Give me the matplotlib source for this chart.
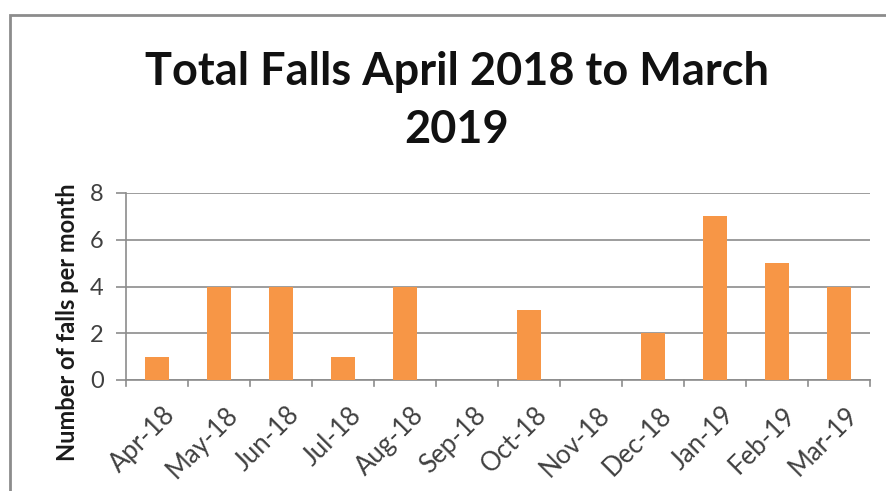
import matplotlib.pyplot as plt
from matplotlib.patches import Rectangle
from matplotlib.transforms import ScaledTranslation

# monthly falls, Apr 2018 - Mar 2019
months = ['Apr-18', 'May-18', 'Jun-18', 'Jul-18', 'Aug-18', 'Sep-18',
          'Oct-18', 'Nov-18', 'Dec-18', 'Jan-19', 'Feb-19', 'Mar-19']
falls = [1, 4, 4, 1, 4, 0, 3, 0, 2, 7, 5, 4]
yticks = [0, 2, 4, 6, 8]

plt.rcParams['font.family'] = ['Lato', 'DejaVu Sans']

fig = plt.figure(figsize=(8.87, 4.91), dpi=100)
ax = fig.add_axes([126 / 887, 1 - 380 / 491, (870 - 126) / 887, (380 - 193) / 491])

# chart frame
fig.patches.append(Rectangle((10 / 887, -0.1), 1.0, 1 - 15 / 491 + 0.1,
                             transform=fig.transFigure, fill=False,
                             edgecolor='#8c8c8c', linewidth=2.0))

x = list(range(len(months)))
ax.bar(x, falls, width=0.4, color='#F79646', zorder=3)

ax.set_xlim(-0.5, len(months) - 0.5)
ax.set_ylim(0, 8)
ax.set_yticks(yticks)
ax.yaxis.grid(True, color='#8c8c8c', linewidth=1.2, zorder=0)
ax.tick_params(axis='y', labelsize=17, colors='#8c8c8c', labelcolor='#404040',
               length=7, width=1.2, pad=9)

# category labels under bars, tick marks on category boundaries
ax.set_xticks(x)
ax.set_xticklabels(months, rotation=45, ha='right', rotation_mode='anchor',
                   fontsize=18.5, color='#404040')
ax.tick_params(axis='x', length=0, pad=16)
shift = ScaledTranslation(6 / 100, 0, fig.dpi_scale_trans)
for lbl in ax.get_xticklabels():
    lbl.set_transform(lbl.get_transform() + shift)
for b in [i - 0.5 for i in range(len(months) + 1)]:
    ax.plot([b, b], [0, -0.25], color='#8c8c8c', linewidth=1.2, clip_on=False)

for side in ['top', 'right']:
    ax.spines[side].set_visible(False)
ax.spines['left'].set_color('#8c8c8c')
ax.spines['bottom'].set_color('#8c8c8c')
ax.spines['left'].set_linewidth(1.2)
ax.spines['bottom'].set_linewidth(1.2)

fig.text(68 / 887, 1 - 322 / 491, 'Number of falls per month', rotation=90,
         ha='center', va='center', fontsize=17, fontweight='bold', color='#1a1a1a')

fig.text(457 / 887, 1 - 72 / 491, 'Total Falls April 2018 to March',
         ha='center', va='center', fontsize=32.5, fontweight='bold', color='#111111')
fig.text(457 / 887, 1 - 130 / 491, '2019',
         ha='center', va='center', fontsize=32.5, fontweight='bold', color='#111111')

fig.savefig('out.png', dpi=100)
